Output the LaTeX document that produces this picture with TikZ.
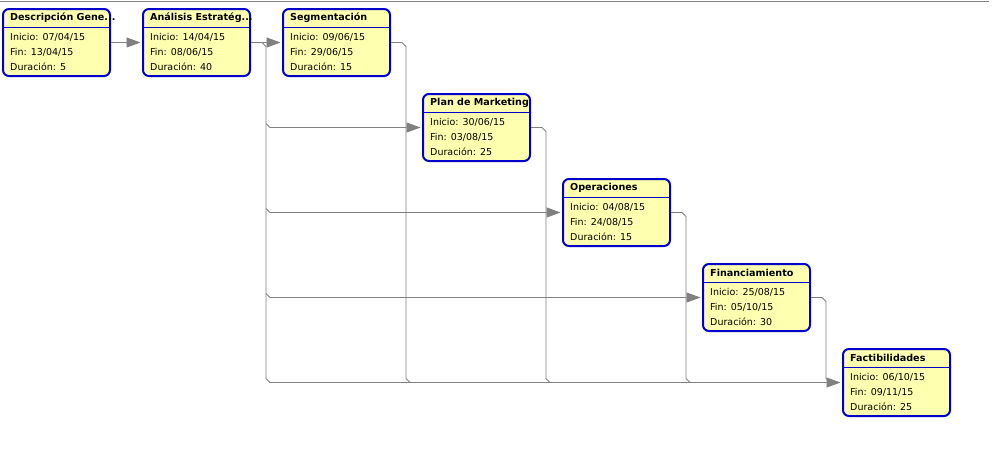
\documentclass[tikz,border=0pt]{standalone}
\usepackage{fontspec}
\setmainfont{DejaVu Sans}
\usetikzlibrary{arrows.meta,calc}
\definecolor{taskfill}{RGB}{255,255,176}
\definecolor{taskblue}{RGB}{0,0,200}
\definecolor{linkgrey}{RGB}{128,128,128}
\tikzset{
  base/.style={font=\fontsize{9.5}{11}\selectfont, inner sep=0pt, anchor=west, text=black},
  task/.style={rectangle, rounded corners=6pt, draw=taskblue, fill=taskfill, line width=2pt, minimum width=107pt, minimum height=67pt, inner sep=0pt},
  ttl/.style={base, font=\fontsize{9.6}{11}\selectfont\bfseries},
  sep/.style={draw=taskblue, line width=0.8pt},
  link/.style={draw=linkgrey, line width=0.9pt},
  arr/.style={link, -{Triangle[length=14pt,width=10pt]}, shorten >=1.5pt},
}

\begin{document}
\begin{tikzpicture}[x=1pt,y=-1pt]
  \useasboundingbox (0,0) rectangle (993,459);
  \draw[link, line width=1.2pt] (0,1.5) -- (989,1.5);
  % tasks
  \foreach \i/\x/\y/\t/\s/\e/\d in {1/2/8/Descripción Gene{...}/{07/04/15}/{13/04/15}/5,
      2/142/8/Análisis Estratég{...}/{14/04/15}/{08/06/15}/40,
      3/282/8/Segmentación/{09/06/15}/{29/06/15}/15,
      4/422/93/Plan de Marketing/{30/06/15}/{03/08/15}/25,
      5/562/178/Operaciones/{04/08/15}/{24/08/15}/15,
      6/702/263/Financiamiento/{25/08/15}/{05/10/15}/30,
      7/842/348/Factibilidades/{06/10/15}/{09/11/15}/25}{
    \node[task] (t\i) at (\x+54.5,\y+34.5) {};
    \draw[sep] ([yshift=-19pt]t\i.north west) -- ([yshift=-19pt]t\i.north east);
    \node[ttl] (t\i-ttl) at ([xshift=8pt,yshift=-10pt]t\i.north west) {\t};
    \node[base] (t\i-ini) at ([xshift=8pt,yshift=-29pt]t\i.north west) {Inicio: \s};
    \node[base] (t\i-fin) at ([xshift=8pt,yshift=-44pt]t\i.north west) {Fin: \e};
    \node[base] (t\i-dur) at ([xshift=8pt,yshift=-59pt]t\i.north west) {Duración: \d};
  }
  % links
  \coordinate (sp) at (266,0);
  \draw[arr] (t1.east) -- (t2.west);
  \draw[arr] (t2.east) -- (t3.west);
  \draw[arr] (t2.east) -- ++(11,0) -- ++(4,4) -- ($(sp |- t7.west)+(0,-4)$) -- ++(4,4) -- (t7.west);
  \foreach \k in {4,5,6}{\draw[arr] ($(sp |- t\k.west)+(0,-4)$) -- ++(4,4) -- (t\k.west);}
  \foreach \k in {3,4,5,6}{\draw[link] (t\k.east) -- ++(11,0) -- ++(4,4) -- ($(t\k.east |- t7.west)+(15,-4)$) -- ++(4,4);}
\end{tikzpicture}
\end{document}
